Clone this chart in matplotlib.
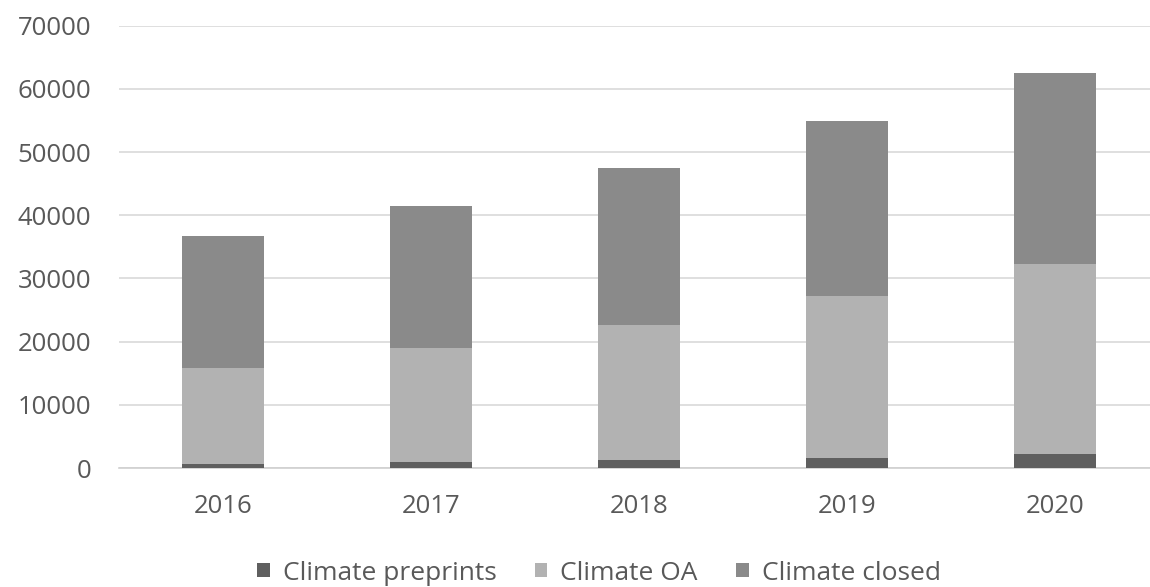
import numpy as np
import matplotlib.pyplot as plt

years = ["2016", "2017", "2018", "2019", "2020"]
preprints = [700, 1000, 1300, 1650, 2250]
oa = [15100, 17970, 21400, 25560, 30030]
closed = [20900, 22500, 24790, 27620, 30160]

plt.rcParams['font.family'] = ['Open Sans', 'DejaVu Sans']

fig = plt.figure(figsize=(11.5, 5.87), dpi=100)
ax = fig.add_axes([119 / 1150, 119 / 587, 1031 / 1150, 442.4 / 587])

x = np.arange(len(years))
w = 0.394
pre = np.array(preprints)
mid = pre + np.array(oa)
ax.bar(x, preprints, w, color="#5f5f5f", label="Climate preprints", zorder=3)
ax.bar(x, oa, w, bottom=pre, color="#b2b2b2", label="Climate OA", zorder=3)
ax.bar(x, closed, w, bottom=mid, color="#8a8a8a", label="Climate closed", zorder=3)

ax.set_xlim(-0.5, 4.457)
ax.set_ylim(0, 70000)
ax.set_yticks(range(0, 70001, 10000))
ax.set_xticks(x)
ax.set_xticklabels(years)
ax.yaxis.grid(True, color="#d9d9d9", linewidth=1.2, zorder=0)
ax.tick_params(length=0, labelsize=18.5, colors="#595959")
ax.tick_params(axis='x', pad=19)
ax.tick_params(axis='y', pad=20)
for s in ["top", "right", "left"]:
    ax.spines[s].set_visible(False)
ax.spines["bottom"].set_color("#d0d0d0")
ax.spines["bottom"].set_linewidth(1.2)

fig.legend(loc="center", bbox_to_anchor=(599 / 1150, 1 - 573 / 587), ncol=3, frameon=False,
           fontsize=19, handlelength=0.47, handleheight=0.47, handletextpad=0.5,
           columnspacing=1.45, labelcolor="#595959")

fig.savefig("out.png", dpi=100)
